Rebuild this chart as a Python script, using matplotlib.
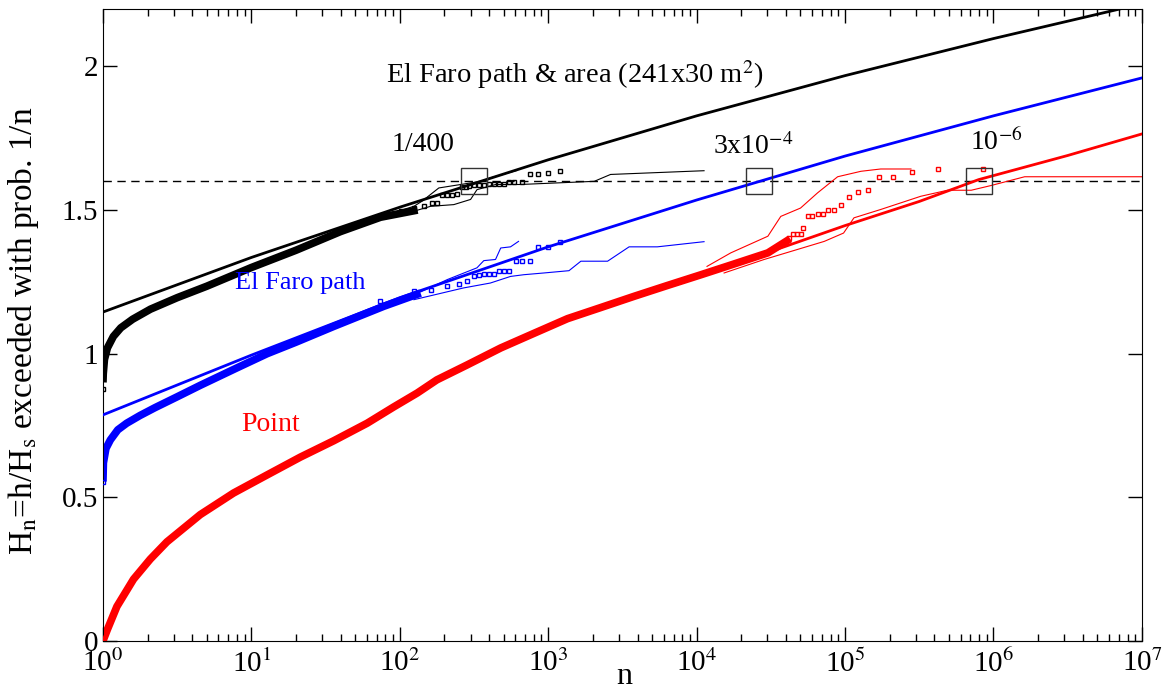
import numpy as np
import matplotlib.pyplot as plt

plt.rcParams['font.family'] = ['Liberation Serif', 'DejaVu Serif']
plt.rcParams['mathtext.fontset'] = 'stix'

# theoretical curves, log10(n) vs H_n
area_theory_logn = [0, 1, 2, 3, 4, 5, 6, 7]
area_theory = [1.145, 1.335, 1.510, 1.675, 1.828, 1.968, 2.097, 2.218]

path_theory_logn = [0, 1, 2, 3, 4, 5, 6, 7]
path_theory = [0.787, 0.995, 1.195, 1.372, 1.535, 1.688, 1.828, 1.960]

point_theory_logn = [0, 0.03, 0.094, 0.206, 0.319, 0.431, 0.656, 0.88, 1.106, 1.33, 1.555,
                     1.78, 1.96, 2.117, 2.25, 2.45, 2.68, 2.9, 3.13, 3.35, 3.58, 3.893,
                     4.5, 5, 5.5, 5.9, 6.5, 7]
point_theory = [0.0, 0.04, 0.12, 0.215, 0.285, 0.345, 0.44, 0.515, 0.578, 0.64, 0.697,
                0.758, 0.815, 0.863, 0.909, 0.96, 1.02, 1.07, 1.122, 1.16, 1.20, 1.246,
                1.356, 1.446, 1.530, 1.606, 1.690, 1.765]

# dense empirical bands (many overlapping samples)
area_band_logn = [0.0, 0.002, 0.01, 0.03, 0.07, 0.12, 0.2, 0.32, 0.5, 0.7, 1.0, 1.3, 1.6,
                  1.87, 2.12]
area_band = [0.90, 0.93, 0.98, 1.02, 1.06, 1.09, 1.12, 1.155, 1.195, 1.235, 1.30, 1.36, 1.425,
             1.475, 1.50]

path_band_logn = [0.0, 0.003, 0.02, 0.05, 0.1, 0.16, 0.25, 0.35, 0.5, 0.656, 0.9, 1.106, 1.3,
                  1.555, 1.892, 2.14]
path_band = [0.555, 0.62, 0.67, 0.70, 0.735, 0.758, 0.785, 0.812, 0.85, 0.89, 0.95, 1.0, 1.04,
             1.095, 1.165, 1.211]

point_band_logn = [0.0, 0.03, 0.094, 0.206, 0.319, 0.431, 0.656, 0.88, 1.106, 1.33, 1.555,
                   1.78, 1.96, 2.117, 2.25, 2.45, 2.68, 2.9, 3.13, 3.35, 3.58, 3.8, 4.03,
                   4.25, 4.48, 4.63]
point_band = [0.0, 0.04, 0.12, 0.215, 0.285, 0.345, 0.44, 0.515, 0.578, 0.64, 0.697,
              0.758, 0.815, 0.863, 0.909, 0.96, 1.02, 1.07, 1.122, 1.16, 1.20, 1.237, 1.275,
              1.312, 1.351, 1.40]

# sparse empirical tail (squares)
area_sq_logn = [0.0, 2.005, 2.095, 2.16, 2.22, 2.25, 2.286, 2.32, 2.353, 2.387, 2.42, 2.443,
                2.466, 2.5, 2.533, 2.566, 2.60, 2.634, 2.668, 2.70, 2.735, 2.77, 2.825,
                2.875, 2.93, 2.998, 3.08]
area_sq = [0.877, 1.496, 1.507, 1.513, 1.525, 1.525, 1.554, 1.554, 1.554, 1.556, 1.579, 1.579,
           1.583, 1.589, 1.589, 1.589, 1.591, 1.591, 1.591, 1.591, 1.597, 1.597, 1.597,
           1.625, 1.625, 1.628, 1.636]

path_sq_logn = [0.0, 1.87, 2.095, 2.207, 2.32, 2.40, 2.454, 2.5, 2.533, 2.566, 2.60, 2.634,
                2.668, 2.70, 2.735, 2.78, 2.825, 2.875, 2.93, 2.998, 3.08]
path_sq = [0.555, 1.182, 1.217, 1.223, 1.235, 1.244, 1.252, 1.272, 1.275, 1.279, 1.279, 1.279,
           1.289, 1.289, 1.289, 1.322, 1.322, 1.322, 1.372, 1.372, 1.389]

point_sq_logn = [4.62, 4.65, 4.675, 4.70, 4.72, 4.75, 4.78, 4.815, 4.85, 4.886, 4.927, 4.974,
                 5.028, 5.084, 5.152, 5.23, 5.325, 5.45, 5.628, 5.927]
point_sq = [1.403, 1.416, 1.416, 1.416, 1.437, 1.480, 1.480, 1.487, 1.487, 1.501, 1.501, 1.518,
            1.546, 1.563, 1.570, 1.616, 1.616, 1.633, 1.643, 1.643]

# confidence bounds
area_up_logn = [1.87, 2.095, 2.15, 2.263, 2.41, 2.544, 2.61, 2.79]
area_up = [1.478, 1.513, 1.531, 1.577, 1.589, 1.60, 1.612, 1.638]
area_lo_logn = [1.87, 2.095, 2.207, 2.364, 2.477, 2.52, 2.645, 2.81, 3.08, 3.31, 3.42, 4.05]
area_lo = [1.467, 1.496, 1.513, 1.519, 1.537, 1.571, 1.589, 1.589, 1.595, 1.60, 1.624, 1.637]

path_up_logn = [2.14, 2.32, 2.52, 2.566, 2.645, 2.68, 2.746, 2.80]
path_up = [1.215, 1.258, 1.299, 1.324, 1.328, 1.368, 1.372, 1.391]
path_lo_logn = [2.095, 2.43, 2.61, 2.746, 2.836, 2.97, 3.14, 3.22, 3.40, 3.545, 3.735, 4.05]
path_lo = [1.188, 1.229, 1.246, 1.269, 1.275, 1.281, 1.289, 1.322, 1.322, 1.372, 1.372, 1.390]

point_up_logn = [4.07, 4.23, 4.48, 4.567, 4.70, 4.815, 4.95, 5.107, 5.24, 5.444]
point_up = [1.304, 1.351, 1.409, 1.478, 1.507, 1.56, 1.616, 1.635, 1.643, 1.643]
point_lo_logn = [4.185, 4.455, 4.86, 4.99, 5.06, 5.24, 5.51, 5.69, 5.85, 5.98, 6.21, 7.0]
point_lo = [1.281, 1.328, 1.391, 1.420, 1.473, 1.502, 1.548, 1.569, 1.569, 1.585, 1.616, 1.616]

# threshold crossings
threshold = 1.6
cross_logn = [2.5, 4.42, 5.9]
cross_labels = ['1/400', r'3x10$^{-4}$', r'10$^{-6}$']

def n(lg):
    return 10.0 ** np.array(lg)

fig = plt.figure(figsize=(11.62, 6.91), dpi=100)
ax = fig.add_axes([0.0886, 0.0724, 0.8941, 0.9146])

ax.axhline(threshold, color='black', lw=1, ls=(0, (6, 4)), zorder=1)

groups = [
    ('black', area_theory_logn, area_theory, area_band_logn, area_band, area_sq_logn, area_sq,
     area_up_logn, area_up, area_lo_logn, area_lo),
    ('blue', path_theory_logn, path_theory, path_band_logn, path_band, path_sq_logn, path_sq,
     path_up_logn, path_up, path_lo_logn, path_lo),
    ('red', point_theory_logn, point_theory, point_band_logn, point_band, point_sq_logn,
     point_sq, point_up_logn, point_up, point_lo_logn, point_lo),
]
for c, thx, th, bx, by, sx, sy, ux, uy, lx, ly in groups:
    ax.plot(n(bx), by, color=c, lw=5.5, solid_capstyle='butt', solid_joinstyle='round',
            zorder=2)
    ax.plot(n(ux), uy, color=c, lw=0.8, zorder=2)
    ax.plot(n(lx), ly, color=c, lw=0.8, zorder=2)
    ax.plot(n(sx), sy, ls='none', marker='s', ms=3.3, mfc='none', mec=c, mew=1, zorder=3)
    ax.plot(n(thx), th, color=c, lw=2, zorder=4)

ax.plot(n(cross_logn), [threshold] * 3, ls='none', marker='s', ms=19, mfc='none',
        mec='#333333', mew=1, zorder=5)

ax.text(n(2.155), 1.728, cross_labels[0], fontsize=20, ha='center', va='center')
ax.text(n(4.38), 1.722, cross_labels[1], fontsize=20, ha='center', va='center')
ax.text(n(6.02), 1.735, cross_labels[2], fontsize=20, ha='center', va='center')
ax.text(n(3.18), 1.972, r'El Faro path & area (241x30 m$^{2}$)', fontsize=20.5,
        ha='center', va='center')
ax.text(n(1.33), 1.247, 'El Faro path', fontsize=19, color='blue', ha='center', va='center')
ax.text(n(1.13), 0.753, 'Point', fontsize=20, color='red', ha='center', va='center')

ax.set_xscale('log')
ax.set_xlim(1, 1e7)
ax.set_ylim(0, 2.2)
ax.set_xticks(n(range(8)))
ax.set_xticklabels([r'10$^{%d}$' % k for k in range(8)])
ax.set_yticks([0, 0.5, 1, 1.5, 2])
ax.set_yticklabels(['0', '0.5', '1', '1.5', '2'])
ax.tick_params(which='both', direction='in', top=True, right=True, labelsize=21)
ax.tick_params(which='major', length=10, width=1)
ax.tick_params(which='minor', length=5, width=1)
ax.tick_params(axis='x', pad=6)
ax.set_xlabel('n', fontsize=23)
ax.xaxis.set_label_coords(0.502, -0.033)
ax.set_ylabel(r'H$_{\rm n}$=h/H$_{\rm s}$ exceeded with prob. 1/n', fontsize=24)
ax.yaxis.set_label_coords(-0.06, 0.49)

fig.savefig('out.png', dpi=100)
